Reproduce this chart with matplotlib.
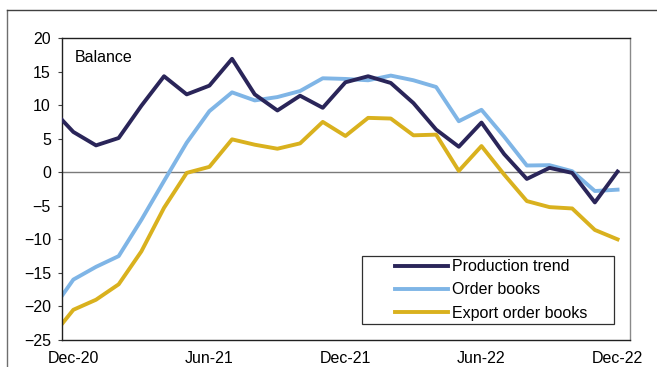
import matplotlib
matplotlib.use("Agg")
import matplotlib.pyplot as plt
from matplotlib.lines import Line2D
from matplotlib.legend_handler import HandlerLine2D

plt.rcParams['font.family'] = ['Liberation Sans', 'DejaVu Sans']
plt.rcParams['font.size'] = 11.5

# monthly, Nov-20 (cut off by the axis) to Dec-22
months = list(range(-1, 25))
production = [9.6, 6.0, 4.0, 5.1, 9.9, 14.3, 11.6, 12.9, 16.9, 11.6, 9.2, 11.4, 9.6,
              13.4, 14.3, 13.3, 10.3, 6.35, 3.8, 7.4, 2.7, -1.0, 0.65, -0.1, -4.5, 0.1]
order_books = [-20.8, -16.0, -14.1, -12.5, -7.1, -1.3, 4.4, 9.1, 11.9, 10.7, 11.2, 12.1, 14.0,
               13.9, 13.7, 14.4, 13.7, 12.7, 7.6, 9.3, 5.3, 1.0, 1.05, 0.15, -2.8, -2.6]
export_books = [-24.7, -20.5, -19.0, -16.7, -11.8, -5.3, -0.1, 0.8, 4.9, 4.1, 3.5, 4.3, 7.5,
                5.4, 8.1, 8.0, 5.5, 5.6, 0.2, 3.9, -0.35, -4.3, -5.2, -5.4, -8.6, -10.0]
tick_pos = [0, 6, 12, 18, 24]
tick_labels = ['Dec-20', 'Jun-21', 'Dec-21', 'Jun-22', 'Dec-22']

navy = '#2a2559'
light_blue = '#7fb5e6'
gold = '#d9b11e'

fig = plt.figure(figsize=(6.57, 3.67), dpi=100)
ax = fig.add_axes([62/657, 27/367, 568/657, 302/367])

# outer frame of the original figure (cut off)
fig.add_artist(Line2D([6.5/657, 6.5/657], [0, 357/367], color='#6e6e6e', lw=1.0))
fig.add_artist(Line2D([6.5/657, 1], [357/367, 357/367], color='#404040', lw=1.0))

ax.axhline(0, color='#7a7a7a', lw=1.0, zorder=1)
lw = 2.8
ax.plot(months, production, color=navy, lw=lw, label='Production trend', zorder=3)
ax.plot(months, order_books, color=light_blue, lw=lw, label='Order books', zorder=2)
ax.plot(months, export_books, color=gold, lw=lw, label='Export order books', zorder=2)

ax.set_xlim(-0.5, 24.55)
ax.set_ylim(-25, 20)
ax.set_yticks(range(-25, 21, 5))
ax.set_xticks(tick_pos)
ax.set_xticklabels(tick_labels)
ax.tick_params(axis='x', length=0, pad=8)
ax.tick_params(axis='y', length=3, width=0.8, pad=5, color='#404040')

for side in ['left', 'bottom', 'top']:
    ax.spines[side].set_color('#202020')
    ax.spines[side].set_linewidth(1.0)
ax.spines['right'].set_color('#8a8a8a')
ax.spines['right'].set_linewidth(1.0)

ax.text(0.023, 0.935, 'Balance', transform=ax.transAxes, ha='left', va='center')

leg = ax.legend(loc='lower left', bbox_to_anchor=(0.528, 0.053, 0.444, 0.2), mode='expand',
                borderaxespad=0, borderpad=0.2, labelspacing=0.52, handlelength=5.17,
                handletextpad=0.3, fancybox=False, framealpha=1, edgecolor='#303030',
                handler_map={Line2D: HandlerLine2D(xpad=1.85)})
leg.get_frame().set_linewidth(0.9)

fig.savefig('out.png', dpi=100)
